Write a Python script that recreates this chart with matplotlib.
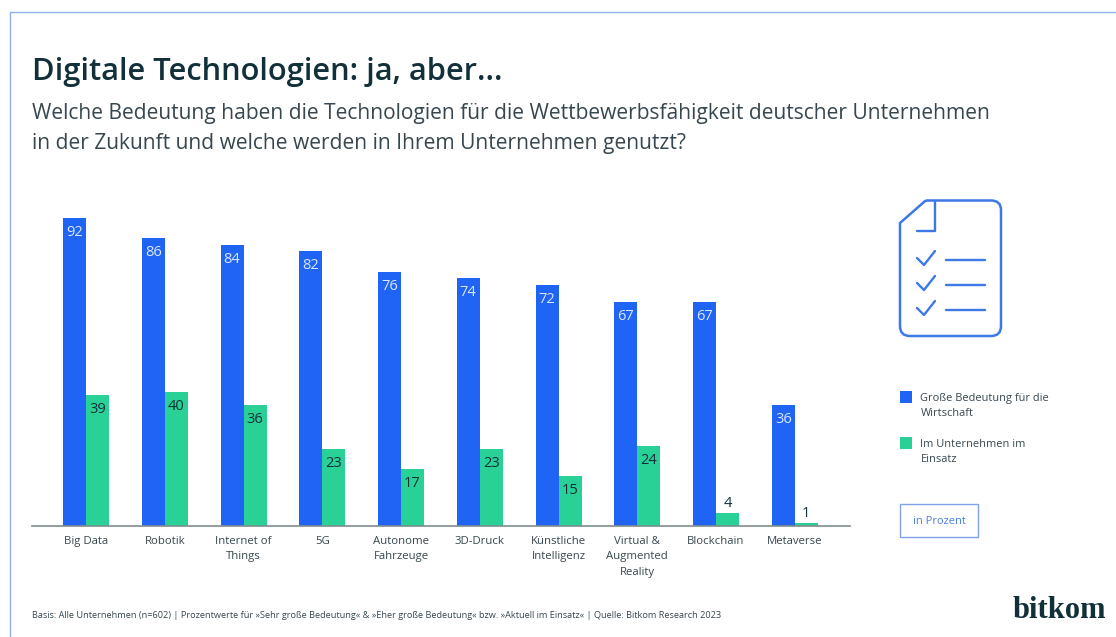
import matplotlib
matplotlib.use("Agg")
import matplotlib.pyplot as plt
from matplotlib.patches import Rectangle, PathPatch
from matplotlib.path import Path
import numpy as np

categories = ["Big Data", "Robotik", "Internet of\nThings", "5G", "Autonome\nFahrzeuge",
              "3D-Druck", "Künstliche\nIntelligenz", "Virtual &\nAugmented\nReality",
              "Blockchain", "Metaverse"]
bedeutung = [92, 86, 84, 82, 76, 74, 72, 67, 67, 36]
einsatz = [39, 40, 36, 23, 17, 23, 15, 24, 4, 1]
legend_labels = ["Große Bedeutung für die\nWirtschaft", "Im Unternehmen im\nEinsatz"]

BLUE = "#1f64f5"
GREEN = "#2ad197"
LINE = "#3d78e6"
DARK = "#12303a"
TEXT = "#37474f"
W, H = 1116, 637
plt.rcParams["font.family"] = ["Open Sans", "DejaVu Sans"]

fig = plt.figure(figsize=(W / 100, H / 100), dpi=100, facecolor="white")

# overlay in pixel coordinates for page furniture
pg = fig.add_axes([0, 0, 1, 1], zorder=0)
pg.set_xlim(0, W); pg.set_ylim(H, 0); pg.axis("off")

# chart axes
top_px, base_px = 200, 526
left_px, right_px = 32, 850
ax = fig.add_axes([left_px / W, 1 - base_px / H, (right_px - left_px) / W, (base_px - top_px) / H], zorder=1)
ax.patch.set_alpha(0)
px_per_unit = (526 - 218) / 92
ax.set_ylim(0, (base_px - top_px) / px_per_unit)
step = 78.75
ax.set_xlim((left_px - 86) / step, (right_px - 86) / step)
x = np.arange(len(categories))
bw = 23 / step
b1 = ax.bar(x - bw / 2, bedeutung, bw, color=BLUE)
b2 = ax.bar(x + bw / 2, einsatz, bw, color=GREEN)

for xi, v in zip(x, bedeutung):
    ax.annotate(str(v), (xi - bw / 2, v), xytext=(0, -5), textcoords="offset points",
                ha="center", va="top", color="#dbe6ff", fontsize=10.5)
for xi, v in zip(x, einsatz):
    inside = v >= 10
    ax.annotate(str(v), (xi + bw / 2, v), xytext=(0, -5 if inside else 1), textcoords="offset points",
                ha="center", va="top" if inside else "bottom", color=DARK, fontsize=10.5)

ax.set_xticks(x, categories, fontsize=8.2, color=TEXT, linespacing=1.56)
ax.tick_params(axis="x", length=0, pad=7)
ax.set_yticks([])
for s in ["top", "left", "right"]:
    ax.spines[s].set_visible(False)
ax.spines["bottom"].set_color("#7f8c8d")
ax.spines["bottom"].set_linewidth(1.2)

# frame
pg.plot([1116, 9.5, 9.5], [11.5, 11.5, 637], color="#8fb0ea", lw=1)

# titles
pg.text(32, 72, "Digitale Technologien: ja, aber...", fontsize=22.2, fontweight="semibold",
        color=DARK, va="center", ha="left")
pg.text(32, 113, "Welche Bedeutung haben die Technologien für die Wettbewerbsfähigkeit deutscher Unternehmen",
        fontsize=15.1, color=TEXT, va="center", ha="left")
pg.text(32, 143.5, "in der Zukunft und welche werden in Ihrem Unternehmen genutzt?",
        fontsize=15.1, color=TEXT, va="center", ha="left")

# icon
M, L, C = Path.MOVETO, Path.LINETO, Path.CURVE3
verts = [(925.7, 200.5), (991, 200.5), (1001, 200.5), (1001, 210), (1001, 326), (1001, 336), (991, 336),
         (910, 336), (900, 336), (900, 326), (900, 223), (925.7, 200.5)]
codes = [M, L, C, C, L, C, C, L, C, C, L, L]
ic = dict(color=LINE, lw=1.7, solid_capstyle="round", solid_joinstyle="round")
pg.add_patch(PathPatch(Path(verts, codes), fill=False, ec=LINE, lw=1.8))
pg.plot([917, 935, 935], [231, 231, 201], **ic)
for yy in [260, 285, 310]:
    pg.plot([917, 924, 935], [yy - 2, yy + 5, yy - 9], **ic)
    pg.plot([946, 984.5], [yy, yy], **ic)

# legend
pg.add_patch(Rectangle((900, 391), 12, 12, color=BLUE, lw=0))
pg.add_patch(Rectangle((900, 437), 12, 12, color=GREEN, lw=0))
pg.text(920.5, 406, legend_labels[0], fontsize=7.9, color=TEXT, va="center", linespacing=1.62)
pg.text(920.5, 452, legend_labels[1], fontsize=7.9, color=TEXT, va="center", linespacing=1.62)

# unit box
pg.add_patch(Rectangle((900, 503.5), 78, 33, fill=False, ec="#7fa3ea", lw=1))
pg.text(939, 521, "in Prozent", fontsize=8, color="#4a7fe0", ha="center", va="center")

# footer
pg.text(32, 615, "Basis: Alle Unternehmen (n=602) | Prozentwerte für »Sehr große Bedeutung« & »Eher große Bedeutung« bzw. »Aktuell im Einsatz« | Quelle: Bitkom Research 2023",
        fontsize=6.62, color=TEXT, va="center")
pg.text(1106, 610, "bitkom", fontsize=22, fontweight="bold", family="Liberation Serif", color=DARK, ha="right", va="center")

fig.savefig("out.png", dpi=100)
